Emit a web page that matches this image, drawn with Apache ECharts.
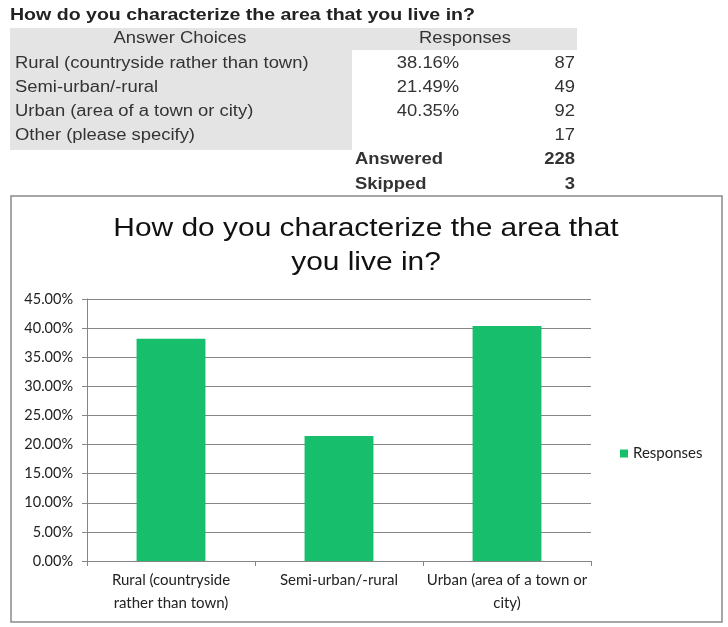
<!DOCTYPE html>
<html>
<head>
<meta charset="utf-8">
<script src="https://cdn.jsdelivr.net/npm/echarts@6/dist/echarts.min.js"></script>
<style>
  html, body { margin: 0; padding: 0; background: #fff; }
  #chart { width: 728px; height: 627px; }
</style>
</head>
<body>
<div id="chart"></div>
<script>
// Survey summary table
const heading = 'How do you characterize the area that you live in?';
const tableChoices = [
  'Rural (countryside rather than town)',
  'Semi-urban/-rural',
  'Urban (area of a town or city)',
  'Other (please specify)'
];
const tablePercents = ['38.16%', '21.49%', '40.35%', ''];
const tableCounts = [87, 49, 92, 17];
const answeredCount = 228;
const skippedCount = 3;

// Bar chart data
const chartTitleLines = ['How do you characterize the area that', 'you live in?'];
const categories = [
  'Rural (countryside\nrather than town)',
  'Semi-urban/-rural',
  'Urban (area of a town or\ncity)'
];
const shares = [0.3816, 0.2149, 0.4035];
const seriesName = 'Responses';

const tableFont = '"Liberation Sans", Arial, sans-serif';
const chartFont = 'Lato, "Open Sans", sans-serif';
const WIDE = 1.15; // horizontal stretch of the text glyphs

const graphics = [];

function addText(x, y, text, font, align, fill) {
  graphics.push({
    type: 'text', x: x, y: y, scaleX: WIDE, z: 2,
    style: { text: text, font: font, fill: fill || '#333', align: align || 'left', verticalAlign: 'middle' }
  });
}

// Gray shading behind the table header and choice column
graphics.push({ type: 'rect', shape: { x: 10, y: 28, width: 567, height: 22 }, style: { fill: '#e4e4e4' }, z: 0 });
graphics.push({ type: 'rect', shape: { x: 10, y: 50, width: 342, height: 100 }, style: { fill: '#e4e4e4' }, z: 0 });

addText(10, 15, heading, 'bold 17px ' + tableFont, 'left', '#222');
addText(180, 39, 'Answer Choices', '16px ' + tableFont, 'center');
addText(465, 39, 'Responses', '16px ' + tableFont, 'center');
tableChoices.forEach(function (choice, i) {
  const y = 64 + i * 24;
  addText(15, y, choice, '16px ' + tableFont, 'left');
  addText(428, y, tablePercents[i], '16px ' + tableFont, 'center');
  addText(575, y, String(tableCounts[i]), '16px ' + tableFont, 'right');
});
[['Answered', answeredCount, 160], ['Skipped', skippedCount, 185]].forEach(function (row) {
  addText(355, row[2], row[0], 'bold 16px ' + tableFont, 'left');
  addText(575, row[2], String(row[1]), 'bold 16px ' + tableFont, 'right');
});

// Chart title
chartTitleLines.forEach(function (line, i) {
  addText(366, 229 + i * 34, line, '26px ' + tableFont, 'center', '#111');
});

// Frame around the chart area
graphics.push({
  type: 'rect', shape: { x: 11, y: 196, width: 711, height: 426 },
  style: { fill: 'none', stroke: '#8a8a8a', lineWidth: 1.5 }, z: 1
});

const chart = echarts.init(document.getElementById('chart'), null, { renderer: 'canvas' });
chart.setOption({
  backgroundColor: '#fff',
  animation: false,
  legend: {
    data: [seriesName],
    left: 615,
    top: 441,
    icon: 'rect',
    itemWidth: 8,
    itemHeight: 8,
    itemGap: 5,
    textStyle: { fontFamily: chartFont, fontSize: 15, color: '#222' }
  },
  grid: { left: 87, right: 137, top: 299, bottom: 66, containLabel: false },
  xAxis: {
    type: 'category',
    data: categories,
    axisLine: { lineStyle: { color: '#868686', width: 1 } },
    axisTick: { show: true, length: 5, lineStyle: { color: '#868686' } },
    axisLabel: { interval: 0, margin: 8, fontFamily: chartFont, fontSize: 15, color: '#222', lineHeight: 23 }
  },
  yAxis: {
    type: 'value',
    min: 0,
    max: 0.45,
    interval: 0.05,
    axisLine: { show: true, lineStyle: { color: '#868686', width: 1 } },
    axisTick: { show: true, length: 5, lineStyle: { color: '#868686' } },
    splitLine: { lineStyle: { color: '#868686', width: 1 } },
    axisLabel: {
      margin: 14,
      fontFamily: chartFont, fontSize: 14.5, color: '#222',
      formatter: function (v) { return (v * 100).toFixed(2) + '%'; }
    }
  },
  series: [{
    name: seriesName,
    type: 'bar',
    data: shares,
    barCategoryGap: '59%',
    itemStyle: { color: '#17be6b' }
  }],
  graphic: graphics
});
</script>
</body>
</html>
